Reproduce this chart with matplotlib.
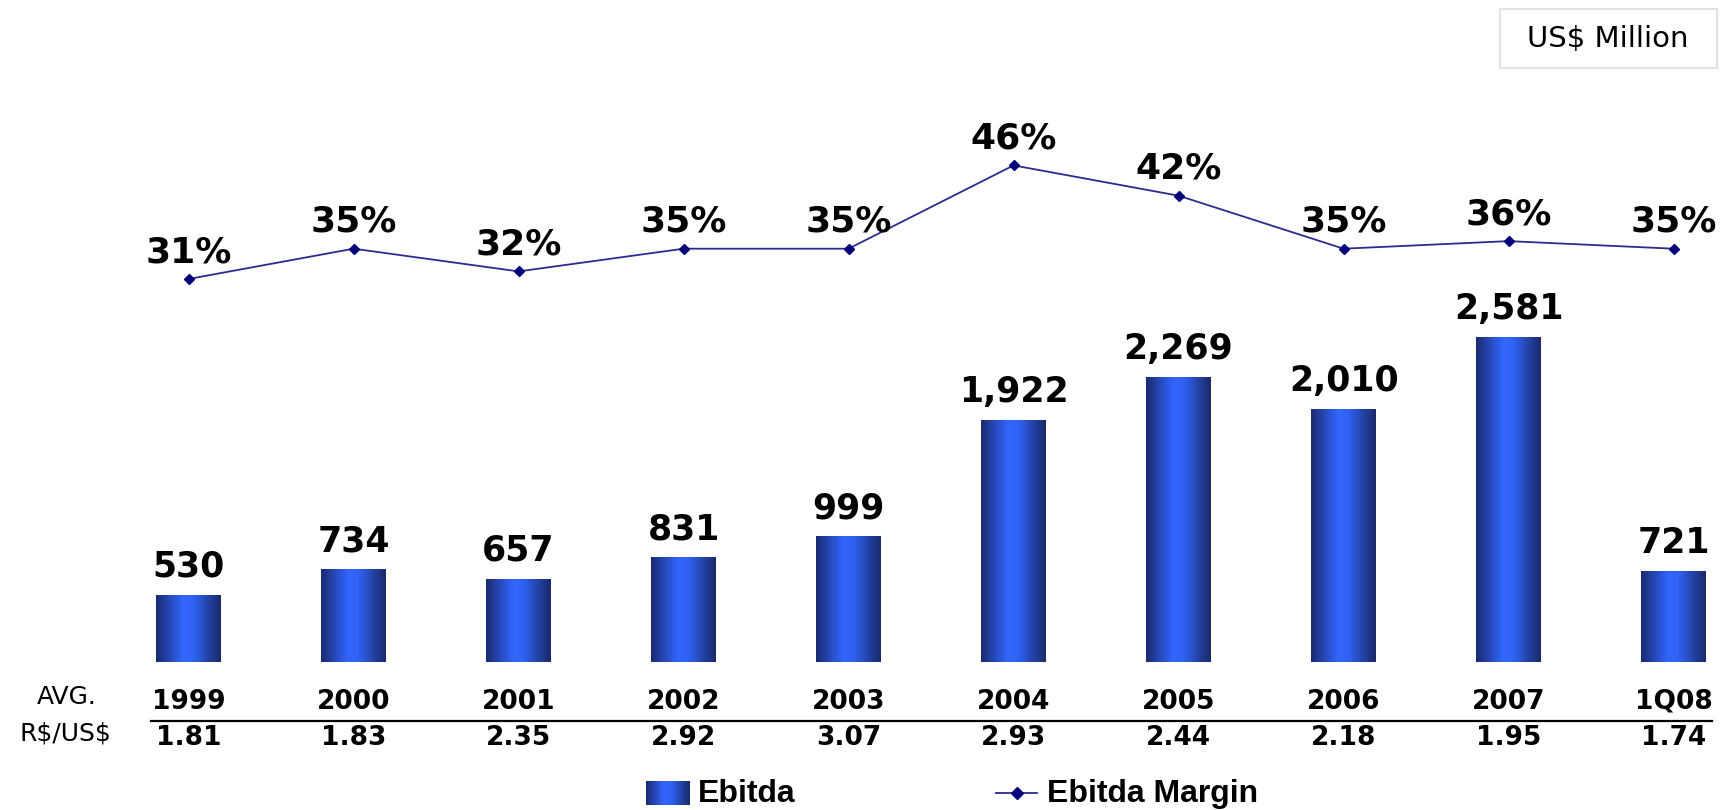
import numpy as np
import matplotlib
matplotlib.use("Agg")
import matplotlib.pyplot as plt
from matplotlib.colors import LinearSegmentedColormap
from matplotlib.lines import Line2D
from matplotlib.patches import Rectangle
import matplotlib.transforms as mtransforms

years = ["1999", "2000", "2001", "2002", "2003", "2004", "2005", "2006", "2007", "1Q08"]
ebitda = [530, 734, 657, 831, 999, 1922, 2269, 2010, 2581, 721]
margin = [31, 35, 32, 35, 35, 46, 42, 35, 36, 35]
fx_rate = ["1.81", "1.83", "2.35", "2.92", "3.07", "2.93", "2.44", "2.18", "1.95", "1.74"]

W, H = 1729, 810
fig = plt.figure(figsize=(W / 100, H / 100), dpi=100)

def fx(x):
    return x / W

def fy(y):
    return 1 - y / H

bar_cmap = LinearSegmentedColormap.from_list(
    "bar", [(0, "#1b2b72"), (0.42, "#3366ff"), (0.58, "#3062f2"), (1, "#1a2a6a")])
grad = np.linspace(0, 1, 64).reshape(1, -1)

ax = fig.add_axes([0, 0, 1, 1])
ax.axis("off")
x = np.arange(len(years))
bw = 0.39
for xi, v in zip(x, ebitda):
    ax.imshow(grad, extent=[xi - bw / 2, xi + bw / 2, 0, v], aspect="auto",
              cmap=bar_cmap, zorder=2, interpolation="bicubic")
    ax.annotate(f"{v:,}", (xi, v), xytext=(0, 8), textcoords="offset points",
                ha="center", va="bottom", fontsize=25, fontweight="bold")
ax.set_xlim(-1.143, 9.336)
ax.set_ylim(-1181.5, 5267.5)

ax2 = ax.twinx()
ax2.axis("off")
ax2.plot(x, margin, color="#2b2b90", lw=1.3, marker="D", markersize=5,
         markerfacecolor="#00007a", markeredgecolor="#00007a", zorder=3)
for xi, m in zip(x, margin):
    ax2.annotate(f"{m}%", (xi, m), xytext=(0, 7), textcoords="offset points",
                 ha="center", va="bottom", fontsize=26, fontweight="bold")
ax2.set_ylim(-39.12, 67.84)
ax2.set_xlim(-1.143, 9.336)

# year row and exchange-rate row
tr = mtransforms.blended_transform_factory(ax.transData, fig.transFigure)
for xi, yr, r in zip(x, years, fx_rate):
    ax.text(xi, fy(702), yr, transform=tr, ha="center", va="center",
            fontsize=19, fontweight="bold")
    ax.text(xi, fy(738), r, transform=tr, ha="center", va="center",
            fontsize=19, fontweight="bold")
fig.add_artist(Line2D([fx(151), fx(1712)], [fy(721), fy(721)], color="black", lw=1.6))
fig.text(fx(67), fy(697), "AVG.", ha="center", va="center", fontsize=18)
fig.text(fx(65), fy(733), "R\\$/US\\$", ha="center", va="center", fontsize=18)

# unit box
fig.add_artist(Rectangle((fx(1500), fy(68)), fx(217), 59 / H, transform=fig.transFigure,
                         facecolor="white", edgecolor="#dddddd", lw=1.2))
fig.text(fx(1608), fy(39), "US\\$ Million", ha="center", va="center", fontsize=21)

# legend
lax = fig.add_axes([fx(646), fy(805), fx(43), 24 / H])
lax.imshow(grad, aspect="auto", cmap=bar_cmap, interpolation="nearest")
lax.axis("off")
fig.text(fx(698), fy(794), "Ebitda", ha="left", va="center", fontsize=23,
         fontweight="bold", family="Liberation Sans")
fig.add_artist(Line2D([fx(996), fx(1037)], [fy(793), fy(793)], color="#2b2b90", lw=1.3))
fig.add_artist(Line2D([fx(1016.5)], [fy(793)], color="#00007a", marker="D", markersize=6,
                      linestyle="none"))
fig.text(fx(1047), fy(794), "Ebitda Margin", ha="left", va="center", fontsize=23,
         fontweight="bold", family="Liberation Sans")

fig.savefig("out.png", dpi=100)
